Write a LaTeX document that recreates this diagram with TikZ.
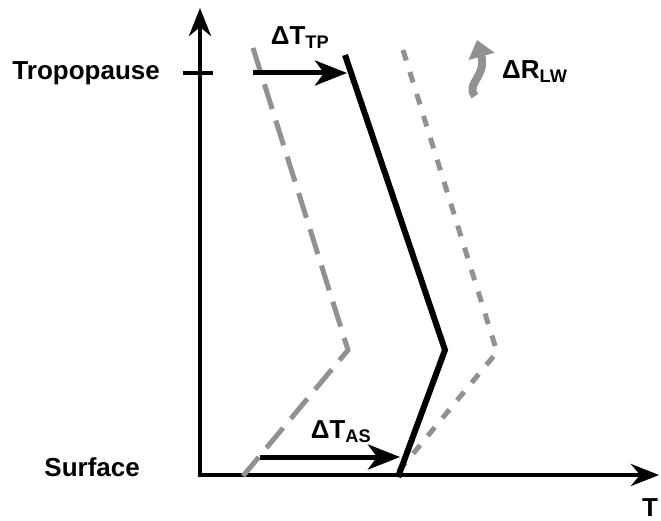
\documentclass[tikz,border=0pt]{standalone}
\usepackage{fontspec}
\setmainfont{Liberation Sans}
\usetikzlibrary{arrows.meta}
\definecolor{lapse-gray}{RGB}{145, 145, 145}

\begin{document}
\begin{tikzpicture}[x=1pt, y=-1pt,
    axisline/.style={line width=4.5pt, -{Stealth[length=28pt, width=22pt, inset=9pt]}},
    profile/.style={line width=6pt},
    lbl/.style={font=\fontsize{26}{29}\selectfont\bfseries, inner sep=0pt},
    shiftarrow/.style={line width=5pt, -{Stealth[length=32pt, width=25pt, inset=9pt]}}]
    \useasboundingbox (0,0) rectangle (661,521);

    % axes
    \coordinate (orig) at (198,475);
    \coordinate (ytop) at (200,8);
    \coordinate (xend) at (659,475);
    \draw[axisline] (200,477) -- (ytop);
    \draw[axisline] (orig) -- (xend);
    \coordinate (tickl) at (183,73);
    \coordinate (tickr) at (213,73);
    \draw[line width=4.5pt] (tickl) -- (tickr);

    \node[lbl, anchor=east] (trop) at (160,73) {Tropopause};
    \node[lbl, anchor=east] (surf) at (140,467) {Surface};
    \node[lbl] (tlab) at (650,508) {T};

    % profiles
    \coordinate (c1) at (253,48);
    \coordinate (c2) at (348,350);
    \coordinate (c3) at (243,476);
    \coordinate (s1) at (345,55);
    \coordinate (s2) at (445,350);
    \coordinate (s3) at (398,477);
    \coordinate (w1) at (403,50);
    \coordinate (w2) at (497,352);
    \coordinate (w3) at (393,478);
    \draw[profile, lapse-gray, line width=5pt, dash pattern=on 26pt off 12pt] (c1) -- (c2) -- (c3);
    \draw[profile, lapse-gray, line width=5pt, dash pattern=on 11pt off 12pt] (w1) -- (w2) -- (w3);
    \draw[profile, line join=miter] (s1) -- (s2) -- (s3);

    % shifts
    \coordinate (tp0) at (253,73);
    \coordinate (tp1) at (347,73);
    \coordinate (as0) at (260,457);
    \coordinate (as1) at (400,457);
    \draw[shiftarrow] (tp0) -- (tp1);
    \draw[shiftarrow] (as0) -- (as1);
    \node[lbl] (dtp) at (300,38) {ΔT\textsubscript{TP}};
    \node[lbl] (das) at (341,432) {ΔT\textsubscript{AS}};

    % longwave
    \coordinate (lw0) at (475,96);
    \coordinate (lw1) at (477,40);
    \draw[lapse-gray, line width=8pt, -{Triangle[length=17pt, width=26pt]}]
        (lw0) .. controls (465,84) and (487,76) .. (lw1);
    \node[lbl, anchor=west] (dlw) at (502,72) {ΔR\textsubscript{LW}};
\end{tikzpicture}
\end{document}
